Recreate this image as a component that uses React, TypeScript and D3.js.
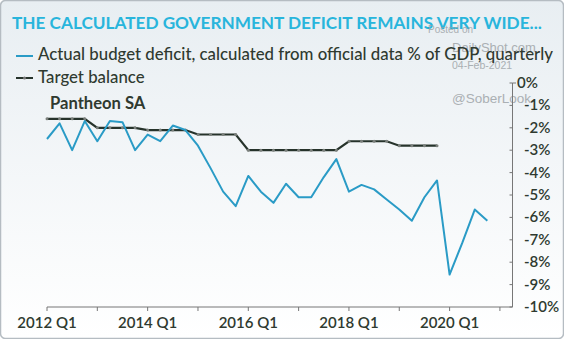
import React from "react";
import * as d3 from "d3";

const startYear = 2012;
const actualDeficit = [
  -2.5, -1.8, -3.0, -1.7, -2.6, -1.7, -1.75, -3.0, -2.3, -2.6, -1.9, -2.1,
  -2.8, -3.8, -4.85, -5.5, -4.15, -4.85, -5.35, -4.5, -5.1, -5.1, -4.2, -3.4,
  -4.85, -4.55, -4.75, -5.2, -5.65, -6.15, -5.1, -4.35, -8.55, -7.15, -5.65, -6.15,
];
const targetBalance = [
  -1.6, -1.6, -1.6, -1.6, -2.0, -2.0, -2.0, -2.0, -2.1, -2.1, -2.1, -2.1,
  -2.3, -2.3, -2.3, -2.3, -3.0, -3.0, -3.0, -3.0, -3.0, -3.0, -3.0, -3.0,
  -2.6, -2.6, -2.6, -2.6, -2.8, -2.8, -2.8, -2.8,
];
const xLabelYears = [2012, 2014, 2016, 2018, 2020];
const xTickYears = [2012, 2013, 2014, 2015, 2016, 2017, 2018, 2019, 2020, 2021];
const yTicks = [0, -1, -2, -3, -4, -5, -6, -7, -8, -9, -10];

const title = "THE CALCULATED GOVERNMENT DEFICIT REMAINS VERY WIDE...";
const legendActual = "Actual budget deficit, calculated from official data % of GDP, quarterly";
const legendTarget = "Target balance";
const source = "Pantheon SA";

const FONT = "Lato, 'Open Sans', sans-serif";

export default function App() {
  const W = 564, H = 339;
  const x = d3.scaleLinear().domain([0, 37]).range([47, 512.5]);
  const y = d3.scaleLinear().domain([-10, 0]).range([307, 83]);
  const line = d3
    .line<number>()
    .x((_, i) => x(i))
    .y((d) => y(d));
  const blue = "#2a9bc6";
  const dark = "#26332b";
  const textCol = "#2f3a30";

  return (
    <svg
      width={W}
      height={H}
      style={{ position: "absolute", left: 0, top: 0, display: "block" }}
      fontFamily={FONT}
    >
      <defs>
        <linearGradient id="bg" x1="0" y1="0" x2="0" y2="1">
          <stop offset="0" stopColor="#e8eef2" />
          <stop offset="1" stopColor="#ffffff" />
        </linearGradient>
      </defs>
      <rect x={0.5} y={0.5} width={W - 1} height={H - 1} rx={5} fill="url(#bg)" stroke="#b5bcc2" strokeWidth={1.5} />

      <text x={12} y={29} fill="#28b5dc" fontSize={17.2} fontWeight={700}>
        {title}
      </text>

      {/* watermarks */}
      <g fill="#9aa0a4" fontFamily="'Liberation Sans', Arial, sans-serif" opacity={0.8}>
        <text x={428} y={33} fontSize={10}>Posted on</text>
        <text x={452} y={52} fontSize={13}>DailyShot.com</text>
        <text x={452} y={69} fontSize={10.5}>04-Feb-2021</text>
        <text x={452} y={103} fontSize={13.5}>@SoberLook</text>
      </g>

      {/* legend */}
      <line x1={16} x2={33} y1={56} y2={56} stroke={blue} strokeWidth={2} />
      <text x={38} y={60} fill={textCol} fontSize={16.8} fontWeight={500}>
        {legendActual}
      </text>
      <line x1={16} x2={33} y1={78} y2={78} stroke={dark} strokeWidth={2} />
      <circle cx={24.5} cy={78} r={1.6} fill="#777" />
      <text x={38} y={82.5} fill={textCol} fontSize={16.8} fontWeight={500}>
        {legendTarget}
      </text>
      <text x={50} y={109} fill={textCol} fontSize={16.6} fontWeight={700}>
        {source}
      </text>

      {/* axes */}
      <line x1={x(0)} x2={x(37)} y1={307} y2={307} stroke="#777" strokeWidth={1} />
      {xTickYears.map((yr) => (
        <line key={yr} x1={x((yr - startYear) * 4)} x2={x((yr - startYear) * 4)} y1={307} y2={311} stroke="#777" />
      ))}
      {xLabelYears.map((yr) => (
        <text
          key={yr}
          x={x((yr - startYear) * 4)}
          y={328}
          textAnchor="middle"
          fill={textCol}
          fontSize={15}
          fontWeight={600}
        >
          {`${yr} Q1`}
        </text>
      ))}
      <line x1={512.5} x2={512.5} y1={y(0)} y2={y(-10)} stroke="#777" />
      <line x1={512.5} x2={516} y1={y(0)} y2={y(0)} stroke="#777" />
      {yTicks.map((t) => (
        <g key={t}>
          <line x1={509.5} x2={512.5} y1={y(t)} y2={y(t)} stroke="#777" />
          <text
            x={t === 0 ? 517 : 524}
            y={y(t) + 5}
            fill={textCol}
            fontSize={15}
            fontWeight={600}
          >
            {`${t === 0 ? "" : "-"}${Math.abs(t)}%`}
          </text>
        </g>
      ))}

      {/* series */}
      <path d={line(targetBalance) || ""} fill="none" stroke={dark} strokeWidth={2.2} />
      {targetBalance.map((v, i) => (
        <circle key={i} cx={x(i)} cy={y(v)} r={1.5} fill="#7b807c" />
      ))}
      <path d={line(actualDeficit) || ""} fill="none" stroke={blue} strokeWidth={2} strokeLinejoin="round" />
    </svg>
  );
}
